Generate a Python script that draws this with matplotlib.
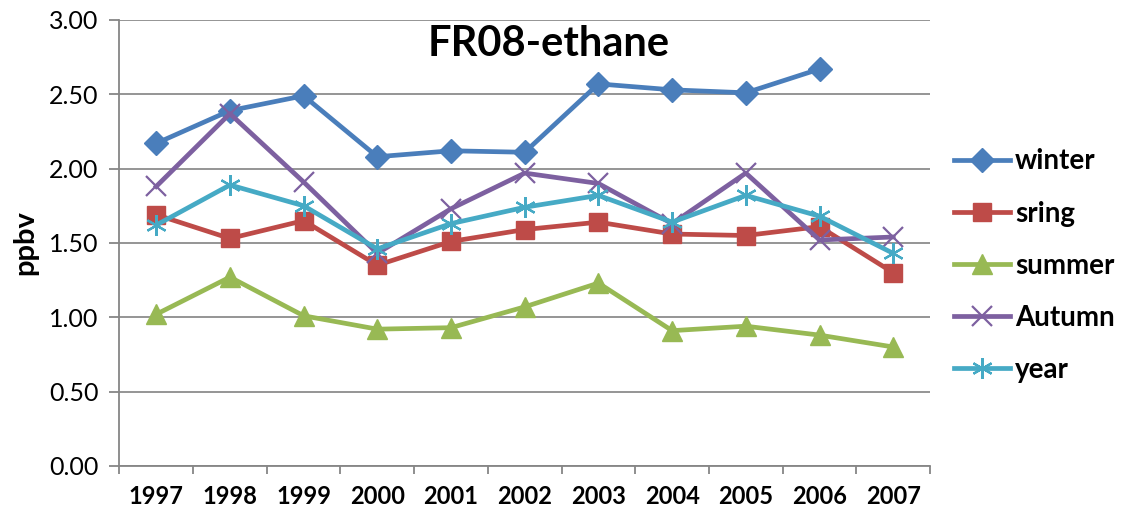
import matplotlib
matplotlib.use("Agg")
import matplotlib.pyplot as plt
import numpy as np

plt.rcParams['font.family'] = ['Lato', 'DejaVu Sans']

years = ['1997', '1998', '1999', '2000', '2001', '2002', '2003', '2004', '2005', '2006', '2007']

winter = [2.17, 2.39, 2.49, 2.08, 2.12, 2.11, 2.57, 2.53, 2.51, 2.67, np.nan]
sring = [1.69, 1.53, 1.65, 1.35, 1.51, 1.59, 1.64, 1.56, 1.55, 1.61, 1.30]
summer = [1.02, 1.27, 1.01, 0.92, 0.93, 1.07, 1.23, 0.91, 0.94, 0.88, 0.80]
autumn = [1.88, 2.37, 1.91, 1.43, 1.73, 1.97, 1.90, 1.63, 1.97, 1.52, 1.54]
year = [1.62, 1.89, 1.75, 1.46, 1.63, 1.74, 1.82, 1.64, 1.82, 1.68, 1.43]

yticks = [0.0, 0.5, 1.0, 1.5, 2.0, 2.5, 3.0]

fig = plt.figure(figsize=(11.26, 5.12), dpi=100)
ax = fig.add_axes([0.106, 0.090, 0.720, 0.871])

x = np.arange(len(years))
series = [
    ("winter", winter, '#4A7EBB', 'D', 12, 1.0),
    ("sring", sring, '#BE4B48', 's', 13, 1.0),
    ("summer", summer, '#98B954', '^', 14, 1.0),
    ("Autumn", autumn, '#7D60A0', 'x', 14, 1.6),
    ("year", year, '#46AAC5', (6, 2, 0), 15, 1.6),
]
for name, vals, color, marker, ms, mew in series:
    ax.plot(x, vals, color=color, lw=3.4, marker=marker, markersize=ms,
            markeredgewidth=mew, markeredgecolor=color, markerfacecolor=color,
            label=name, zorder=3)

ax.set_ylim(0, 3.0)
ax.set_xlim(-0.5, len(years) - 0.5)
ax.set_yticks(yticks)
ax.set_yticklabels([f"{v:.2f}" for v in yticks], fontsize=18)
ax.set_xticks(x)
ax.set_xticklabels(years, fontsize=17, fontweight='bold')
ax.set_xticks(np.arange(-0.5, len(years), 1.0), minor=True)
ax.tick_params(axis='x', which='major', length=0, pad=14)
ax.tick_params(axis='x', which='minor', length=6, color='#868686', width=1.3, direction='out')
ax.tick_params(axis='y', length=7, color='#868686', width=1.3, pad=8)

ax.grid(axis='y', color='#8c8c8c', lw=1.3, zorder=0)
for s in ['top', 'right']:
    ax.spines[s].set_visible(False)
for s in ['left', 'bottom']:
    ax.spines[s].set_color('#868686')
    ax.spines[s].set_linewidth(1.3)

ax.set_ylabel('ppbv', fontsize=21, fontweight='bold', labelpad=8)
ax.text(0.53, 0.945, 'FR08-ethane', transform=ax.transAxes, ha='center', va='center',
        fontsize=30, fontweight='bold')

leg = fig.legend(loc='upper left', bbox_to_anchor=(0.825, 0.759), frameon=False,
                 prop={'size': 20, 'weight': 'bold'}, handlelength=2.0,
                 labelspacing=0.94, handletextpad=0.2)

fig.savefig("out.png", dpi=100)
